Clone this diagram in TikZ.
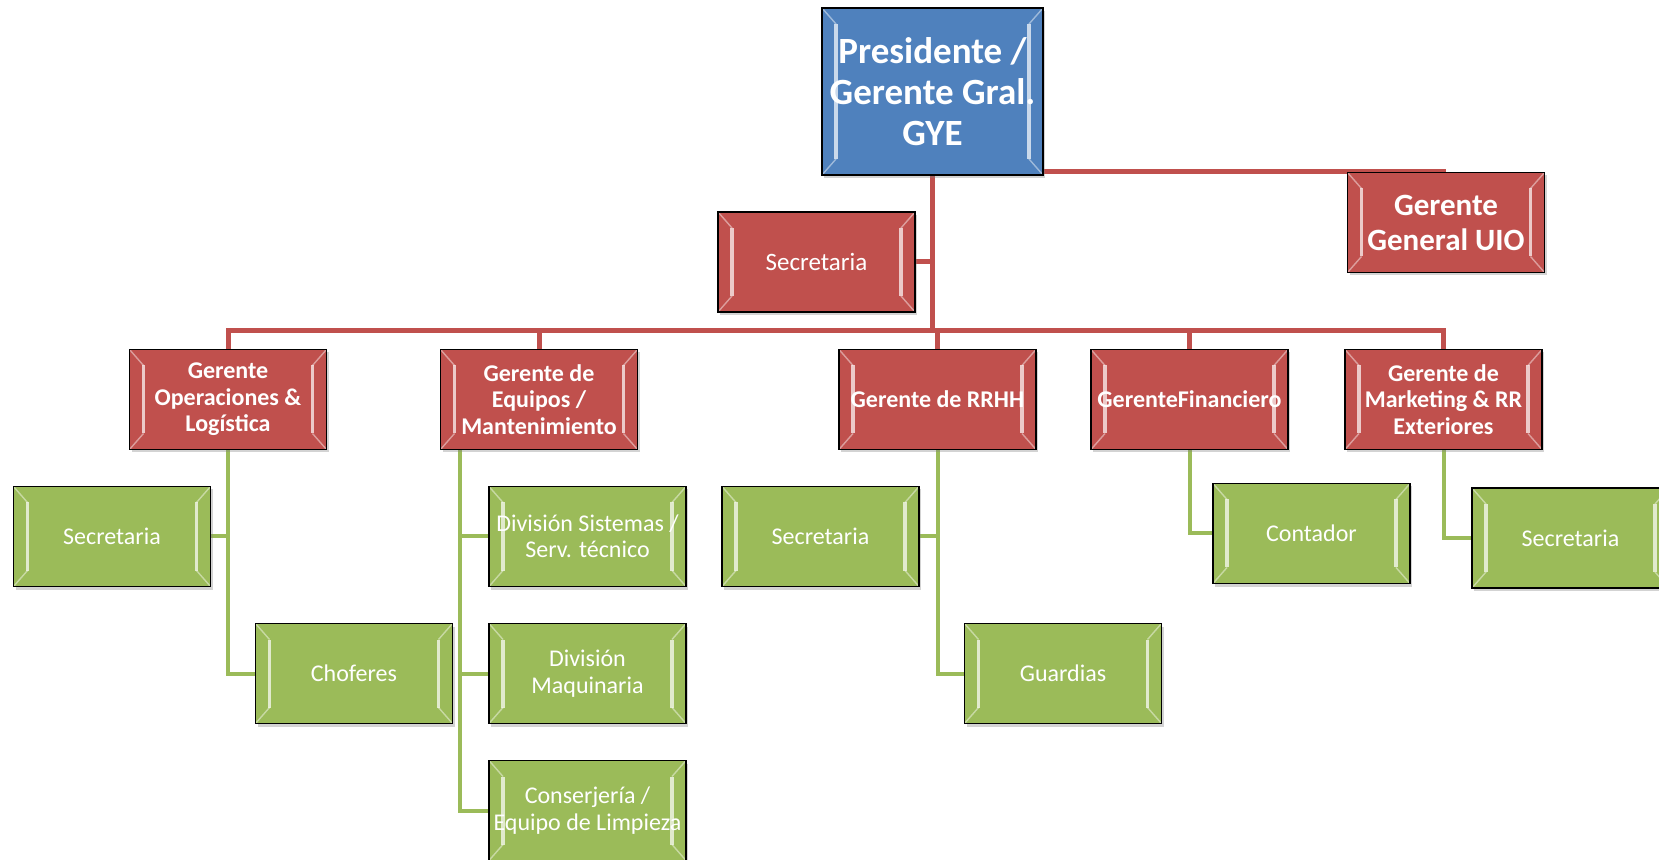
\documentclass[tikz,border=0pt]{standalone}
\usepackage{fontspec}
\setmainfont{Carlito}
\usetikzlibrary{positioning, calc, backgrounds, shadows}

\begin{document}
\begin{tikzpicture}[x=0.5pt, y=-0.5pt,
    % bevel highlight on the left and right edges of each box
    bevel/.style={path picture={
        \coordinate (bl) at (path picture bounding box.south west);
        \coordinate (tr) at (path picture bounding box.north east);
        \draw[white, opacity=0.7, line width=1.8pt]
          ($(bl)+(7pt,8pt)$) -- ($(bl|-tr)+(7pt,-8pt)$)
          ($(tr)+(-7pt,-8pt)$) -- ($(tr|-bl)+(-7pt,8pt)$);
        \draw[white, opacity=0.45, line width=0.7pt]
          (bl) -- ($(bl)+(7pt,8pt)$) (bl|-tr) -- ($(bl|-tr)+(7pt,-8pt)$)
          (tr) -- ($(tr)+(-7pt,-8pt)$) (tr|-bl) -- ($(tr|-bl)+(-7pt,8pt)$);
    }},
    box/.style={draw=black, line width=0.8pt, text=white, align=center,
                minimum width=98.5pt, minimum height=50pt, inner sep=1pt,
                drop shadow={opacity=0.35, shadow xshift=1pt, shadow yshift=-1.5pt},
                bevel},
    bluebox/.style={box, fill=blueC, minimum width=110.5pt, minimum height=83.5pt,
                    font=\bfseries\fontsize{18.5}{20.5}\selectfont},
    redbox/.style={box, fill=redC, font=\bfseries\fontsize{12}{13.2}\selectfont},
    greenbox/.style={box, fill=greenC, font=\fontsize{12}{13.2}\selectfont},
    redline/.style={line width=2.5pt, draw=redC},
    greenline/.style={line width=2pt, draw=greenC}
]

\definecolor{blueC}{HTML}{4F81BD}
\definecolor{redC}{HTML}{C0504D}
\definecolor{greenC}{HTML}{9BBB59}

\useasboundingbox (0,0) rectangle (1659,860);

% top
\node[bluebox] (pres) at (932.5,91.5) {Presidente /\\Gerente Gral.\\GYE};
\node[redbox, font=\bfseries\fontsize{15.5}{17.5}\selectfont] (uio) at (1446,222.5) {Gerente\\General UIO};
\node[redbox, font=\fontsize{12.5}{14}\selectfont] (secg) at (816.5,262) {Secretaria};

% managers
\node[redbox] (ops) at (228,399.5) {Gerente\\Operaciones \&\\Logística};
\node[redbox] (equ) at (539,399.5) {Gerente de\\Equipos /\\Mantenimiento};
\node[redbox] (rrhh) at (937.5,399.5) {Gerente de RRHH};
\node[redbox] (fin) at (1189.5,399.5) {GerenteFinanciero};
\node[redbox] (mkt) at (1443.5,399.5) {Gerente de\\Marketing \& RR\\Exteriores};

% staff
\node[greenbox] (opsec) at (112,536.5) {Secretaria};
\node[greenbox] (chof) at (354,673.5) {Choferes};
\node[greenbox] (dsis) at (587.5,536.5) {División Sistemas /\\Serv. técnico};
\node[greenbox] (dmaq) at (587.5,673.5) {División\\Maquinaria};
\node[greenbox] (cons) at (587.5,810.5) {Conserjería /\\Equipo de Limpieza};
\node[greenbox] (rsec) at (820.5,536.5) {Secretaria};
\node[greenbox] (guar) at (1063,673.5) {Guardias};
\node[greenbox] (cont) at (1311.5,533.5) {Contador};
\node[greenbox] (msec) at (1570.5,538) {Secretaria};

% connectors behind the boxes
\begin{scope}[on background layer]
\coordinate (bus) at (932.5,331);
\draw[redline] (pres.south) -- (bus);
\foreach \m in {ops,equ,rrhh,fin,mkt}
  \draw[redline] (bus) -| (\m.north);
\draw[redline] (secg.east) -- (secg.east -| bus);
\draw[redline] (pres.east |- uio.north) -- (uio.north);

\draw[greenline] (ops.south) |- (chof.west);
\draw[greenline] (opsec.east) -| (ops.south);
\coordinate (eqt) at ([xshift=10pt]equ.south west);
\foreach \d in {dsis,dmaq,cons}
  \draw[greenline] (eqt) |- (\d.west);
\draw[greenline] (rrhh.south) |- (guar.west);
\draw[greenline] (rsec.east) -| (rrhh.south);
\draw[greenline] (fin.south) |- (cont.west);
\draw[greenline] (mkt.south) |- (msec.west);
\end{scope}

\end{tikzpicture}
\end{document}
